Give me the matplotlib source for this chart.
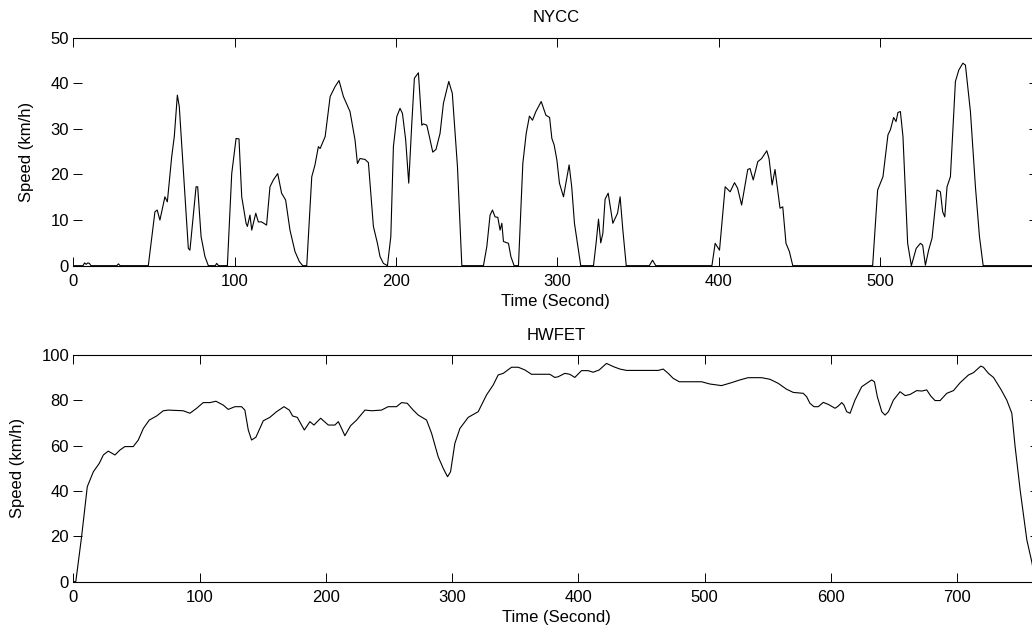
import matplotlib
matplotlib.use('Agg')
import matplotlib.pyplot as plt

# NYCC - tempo (s) e velocidade (km/h)
nycc_tempo = [
    0, 6, 7, 8, 9, 10, 11, 27, 28, 29,
    46.5, 50.6, 52, 53.7, 56.8, 58.3, 61, 62.6, 64.5, 65.7,
    68.2, 71.3, 72.3, 76.1, 77.1, 79.2, 81.6, 83.7, 88, 88.9,
    90, 95.5, 98.2, 100.9, 102.7, 104.4, 107.1, 107.9, 109.5, 110.6,
    113.1, 114.7, 116.7, 119.8, 121.9, 124, 126.7, 129.1, 131.6, 134.3,
    137.4, 140.1, 142.2, 144.7, 147.8, 149.8, 151.9, 153, 156.1, 159.2,
    162.3, 164.7, 167.4, 171.5, 174.6, 176.1, 177.7, 180.8, 182.9, 186,
    188.5, 190.1, 192.2, 194.7, 196.8, 198.4, 200.5, 202.5, 204, 206,
    207.9, 209.8, 211.4, 213.9, 216, 217, 219.1, 220.7, 222.8, 224.8,
    227.3, 229.4, 232.7, 234.9, 238.1, 240.8, 254.2, 256.3, 258.3, 259.8,
    261.4, 263.1, 264.5, 265.6, 266.6, 269.7, 271.2, 273.2, 275.9, 278.6,
    280.7, 282.7, 284.6, 286.7, 290, 292.9, 295.2, 296.6, 298, 299.7,
    301.3, 303.8, 307.3, 308.9, 310.6, 314.5, 322.4, 324, 325.5, 326.9,
    328.2, 329.6, 331.5, 334.4, 337.3, 338.9, 340.6, 342.7, 357, 359,
    361, 395.8, 397.8, 400.5, 404, 407.1, 409.8, 411.7, 414.2, 418,
    419.4, 421.4, 424.2, 426.6, 429.8, 431.2, 433.1, 434.9, 438, 439.7,
    441.7, 443.8, 445.9, 495.4, 498.5, 501.8, 504.9, 506.4, 508.4, 509.9,
    511.1, 512.6, 514.2, 517.1, 519.4, 522.4, 525, 526.4, 528.1, 530.1,
    532.2, 535.3, 537.4, 538.8, 540.1, 541.5, 543.6, 546.7, 548.8, 551.3,
    552.9, 556, 559.1, 561.6, 563.9, 598,
]
nycc_velocidade = [
    0, 0, 0.6, 0.3, 0.6, 0.5, 0, 0, 0.4, 0,
    0, 11.8, 12.2, 10, 15.1, 14, 23.9, 28.3, 37.4, 34.9,
    21, 3.8, 3.4, 17.3, 17.3, 6.4, 2, 0, 0, 0.5,
    0, 0, 20.2, 27.9, 27.8, 15.1, 9.3, 8.6, 11.1, 7.8,
    11.5, 9.6, 9.6, 8.9, 17.3, 18.8, 20.2, 15.9, 14.4, 7.8,
    3.1, 0.9, 0, 0, 19.5, 22.1, 26.1, 25.7, 28.3, 37.1,
    39.3, 40.6, 37.1, 33.8, 27.6, 22.4, 23.5, 23.3, 22.6, 8.6,
    4.9, 2, 0.5, 0, 6.4, 26.1, 32.7, 34.5, 33.4, 27.6,
    18.1, 31.2, 41.1, 42.3, 30.8, 31.1, 30.8, 28.3, 24.9, 25.5,
    29, 35.6, 40.4, 37.8, 21.7, 0, 0, 4.2, 11.1, 12.2,
    10.7, 10.6, 7.8, 9.3, 5.3, 4.9, 2, 0, 0, 22.4,
    29, 32.8, 31.9, 33.8, 36, 33, 32.5, 27.9, 26.5, 23.2,
    18.1, 15.1, 22.1, 17.3, 9.3, 0, 0, 4.9, 10.2, 5,
    7.1, 14.6, 15.9, 9.3, 11.5, 15.1, 7.8, 0, 0, 1.2,
    0, 0, 4.9, 3.4, 17.3, 16.2, 18.2, 17, 13.3, 21.1,
    21.3, 18.8, 22.8, 23.5, 25.2, 23.5, 17.7, 21.1, 12.6, 12.9,
    4.9, 3.1, 0, 0, 16.6, 19.5, 28.7, 29.8, 32.5, 31.6,
    33.6, 33.8, 28.3, 4.9, 0, 3.8, 4.9, 4.5, 0.1, 3.4,
    6, 16.6, 16.2, 11.8, 10.7, 17.3, 19.5, 40.4, 42.9, 44.4,
    44, 33.8, 17.3, 6.4, 0, 0,
]

# HWFET - tempo (s) e velocidade (km/h)
hwfet_tempo = [
    0, 2, 6.6, 11.1, 15.9, 20.6, 23.8, 27.7, 33, 37,
    40.9, 47.5, 51.5, 55.5, 60.2, 66, 71.3, 75.2, 87.1, 92.4,
    97.7, 102.9, 108.2, 113, 118.8, 122.7, 128, 133.3, 135.9, 138.6,
    141.2, 144.6, 150.5, 155.7, 161, 166.9, 171.1, 173.7, 177.4, 183,
    187.4, 190.6, 195.9, 202, 207.2, 209.9, 212.5, 215.1, 219.6, 224.4,
    231, 236.3, 244.1, 249.4, 256, 260, 264.5, 269.2, 273.2, 279.8,
    283.8, 289, 293, 296.4, 298.8, 302.2, 306.2, 312.8, 320.7, 327.3,
    332.6, 336.5, 340.5, 347.1, 352.4, 357.7, 362.9, 377.4, 381.4, 384,
    389.3, 393.2, 397.2, 402.5, 407.8, 411.7, 416.5, 422.3, 427.6, 432.9,
    438.2, 463.3, 467.2, 471.2, 475.1, 479.9, 497.6, 504.2, 513.4, 521.3,
    527.9, 534.5, 545.1, 551.7, 558.3, 564.9, 570.2, 578.1, 580.8, 583.4,
    586.6, 590, 594, 598, 603.3, 605.9, 608.6, 610.4, 612.5, 615.2,
    619.1, 624.4, 628.4, 632.3, 634.5, 636.8, 640.3, 642.9, 645.6, 649.5,
    654.8, 658.8, 662.7, 668, 672, 675.9, 679.1, 682.5, 686.5, 691.8,
    697.1, 702.4, 709, 712.9, 718.7, 720.8, 724.8, 728.8, 734.6, 739.3,
    743.3, 745.9, 749.9, 755.2, 759.1, 762, 765,
]
hwfet_velocidade = [
    0, 0, 19.9, 41.9, 48.5, 52.2, 55.9, 57.6, 55.9, 58.1,
    59.6, 59.6, 62.5, 67.6, 71.3, 73.1, 75.4, 75.7, 75.4, 74.3,
    76.5, 79, 79, 79.6, 77.9, 76, 77.2, 77.2, 75.7, 66.9,
    62.5, 63.7, 71, 72.5, 75, 77.2, 75.7, 73.1, 72.5, 66.9,
    70.6, 69.1, 72.1, 69.1, 69.1, 70.6, 67.6, 64.4, 68.8, 71.3,
    75.7, 75.4, 75.7, 77.2, 77.2, 79, 78.7, 75.7, 73.5, 71.3,
    65.4, 55.1, 50, 46.3, 48.5, 61, 67.6, 72.5, 75, 82.4,
    86.8, 91.2, 91.9, 94.6, 94.6, 93.4, 91.5, 91.5, 90.1, 90.4,
    91.9, 91.5, 90.1, 93.1, 93.1, 92.4, 93.4, 96.3, 94.9, 93.8,
    93.2, 93.2, 93.8, 91.9, 89.7, 88.2, 88.2, 87.2, 86.5, 87.8,
    89, 90, 90, 89.3, 87.5, 84.9, 83.5, 83.1, 81.6, 78.7,
    77.2, 77.2, 79.1, 78.2, 76.5, 77.5, 79, 77.9, 75, 74.3,
    80.1, 86, 87.5, 89, 88.2, 81.6, 75, 73.5, 75, 80.1,
    83.8, 82.1, 82.6, 84.3, 84.1, 84.6, 81.9, 79.9, 79.9, 83.1,
    84.3, 87.8, 91.2, 92.2, 95.1, 94.6, 91.9, 90.1, 84.9, 80.1,
    74.3, 59.6, 40.4, 18.4, 8.8, 0, 0,
]

ticks_nycc_x = [0, 100, 200, 300, 400, 500]
ticks_nycc_y = [0, 10, 20, 30, 40, 50]
ticks_hwfet_x = [0, 100, 200, 300, 400, 500, 600, 700]
ticks_hwfet_y = [0, 20, 40, 60, 80, 100]

plt.rcParams['font.family'] = ['Liberation Sans', 'DejaVu Sans']
plt.rcParams['font.size'] = 12


def formatar_eixo(ax, titulo, ticks_x, ticks_y, xmax, ymax, pos_ylabel):
    ax.set_xlim(0, xmax)
    ax.set_ylim(0, ymax)
    ax.set_xticks(ticks_x)
    ax.set_yticks(ticks_y)
    ax.tick_params(direction='in', top=True, right=True, length=6.5, width=0.7,
                   labelsize=12, colors='black')
    ax.tick_params(axis='x', pad=6)
    ax.tick_params(axis='y', pad=3)
    for lado in ax.spines.values():
        lado.set_linewidth(0.8)
    # no original a linha vertical da esquerda nao aparece
    ax.spines['left'].set_visible(False)
    ax.set_title(titulo, pad=11, fontsize=12)
    ax.set_xlabel('Time (Second)', fontsize=12)
    ax.set_ylabel('Speed (km/h)', fontsize=12)
    ax.xaxis.set_label_coords(0.5, -0.125)
    ax.yaxis.set_label_coords(pos_ylabel, 0.5)


def main():
    fig = plt.figure(figsize=(10.32, 6.3), dpi=100)

    ax1 = fig.add_axes([0.071, 0.5783, 0.935, 0.3619])
    ax1.plot(nycc_tempo, nycc_velocidade, color='black', linewidth=0.8)
    formatar_eixo(ax1, 'NYCC', ticks_nycc_x, ticks_nycc_y, 598, 50, -0.041)

    ax2 = fig.add_axes([0.071, 0.0767, 0.936, 0.3598])
    ax2.plot(hwfet_tempo, hwfet_velocidade, color='black', linewidth=0.8)
    formatar_eixo(ax2, 'HWFET', ticks_hwfet_x, ticks_hwfet_y, 765, 100, -0.05)

    fig.savefig('out.png', dpi=100)
    plt.close(fig)


if __name__ == '__main__':
    main()
